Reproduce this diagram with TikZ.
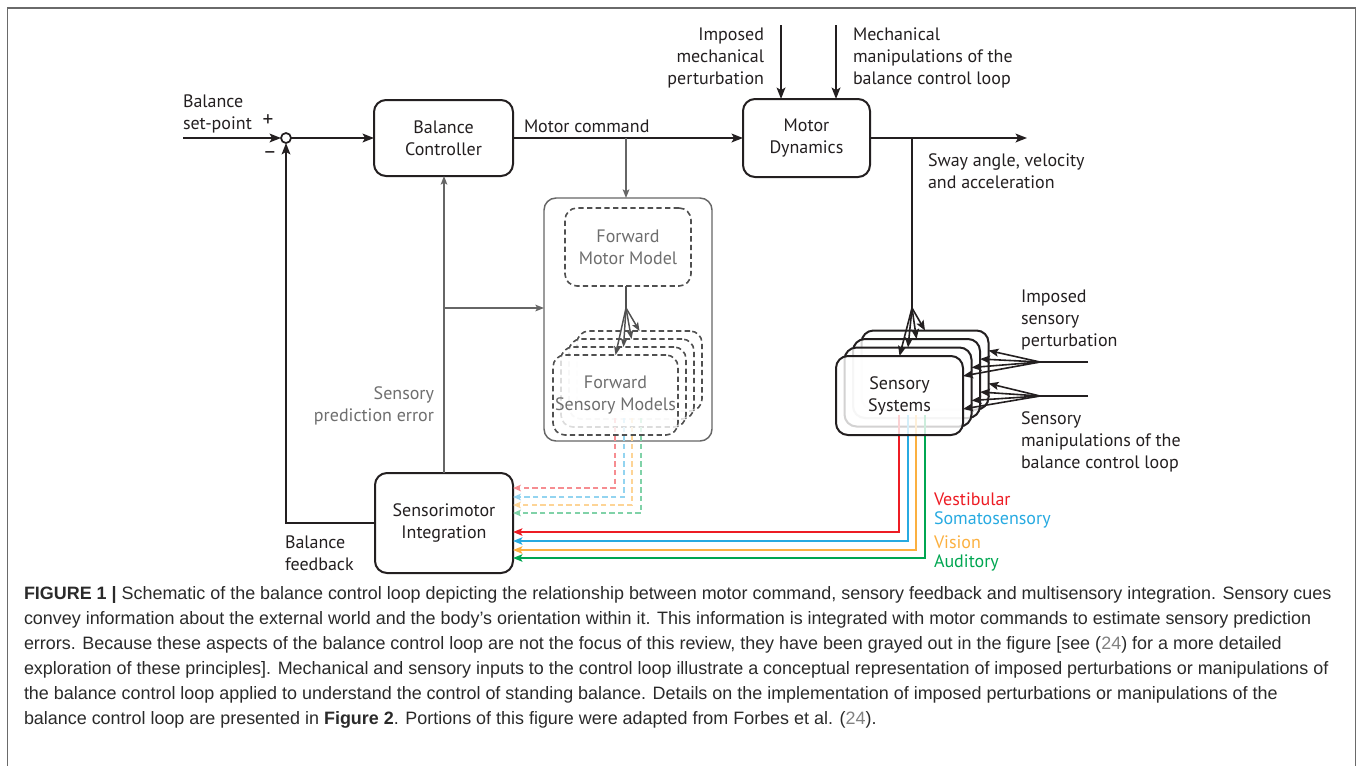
\documentclass[tikz,border=0pt]{standalone}
\usepackage{fontspec}
\setmainfont{PT Sans}
\newfontfamily\capfont{Liberation Sans}
\usetikzlibrary{arrows.meta,calc}
\definecolor{vest}{HTML}{ED1C24}
\definecolor{soma}{HTML}{27AAE1}
\definecolor{visn}{HTML}{FBB040}
\definecolor{audi}{HTML}{00A651}
\definecolor{gline}{HTML}{666666}
\definecolor{gtext}{HTML}{6E6E6E}
\definecolor{dgray}{HTML}{505050}
\definecolor{framec}{HTML}{6A6A6A}
\definecolor{capgray}{HTML}{808080}
\definecolor{ink}{HTML}{231F20}
\definecolor{captext}{HTML}{2A2A2A}
\begin{document}
\begin{tikzpicture}[x=0.75pt,y=-0.75pt,
  every node/.style={font=\fontsize{13.5pt}{16.5pt}\selectfont, inner sep=0pt, outer sep=0pt, text=ink},
  blk/.style 2 args={draw=ink, line width=1.5pt, rounded corners=9pt, align=center,
    minimum width=#1*0.75pt, minimum height=#2*0.75pt},
  stackbox/.style={draw=ink, line width=1.5pt, rounded corners=9pt, fill=white, fill opacity=0.8, text opacity=1,
    minimum width=127*0.75pt, minimum height=79*0.75pt, align=center},
  dashbox/.style={draw=dgray, line width=1.2pt, dash pattern=on 4pt off 2.5pt, rounded corners=9pt, fill=white, fill opacity=0.8, text opacity=1,
    minimum width=125*0.75pt, minimum height=80*0.75pt, align=center, text=gtext},
  arr/.style={draw=ink, line width=1.5pt, -{Stealth[length=8.5pt,width=6.5pt,inset=1.8pt]}},
  fan/.style={draw=ink, line width=1.2pt, -{Stealth[length=7.5pt,width=6pt,inset=1.5pt]}},
  garr/.style={draw=gline, line width=1.1pt, -{Stealth[length=6.5pt,width=5pt,inset=1.5pt]}},
  gfan/.style={draw=dgray, line width=1.1pt, -{Stealth[length=6.5pt,width=5pt,inset=1.5pt]}},
  carr/.style={draw=#1, line width=1.5pt, -{Stealth[length=7pt,width=5.5pt,inset=1.5pt]}},
  darr/.style={draw=#1, line width=1.1pt, dash pattern=on 4pt off 2.5pt, -{Stealth[length=6pt,width=5pt,inset=1.5pt]}},
  signlabel/.style={font=\fontsize{16pt}{18pt}\selectfont},
  capline/.style={anchor=base west, font=\capfont\fontsize{13.45pt}{18.75pt}\selectfont, text=captext}
]
\useasboundingbox (0,0) rectangle (1358,765);
% frame
\draw[framec, line width=1.2pt] (7.5,770) -- (7.5,8) -- (1355.5,8) -- (1355.5,770);

% main blocks
\node[blk={139}{76}] (bc) at (443.5,138) {Balance\\Controller};
\node[blk={127}{78}] (md) at (806.5,138) {Motor\\Dynamics};
\node[blk={138}{100}] (si) at (444,523) {Sensorimotor\\Integration};
\node[draw=ink, circle, line width=1.3pt, minimum size=10*0.75pt, fill=white] (sum) at (286,138) {};

% forward models container
\node[draw=gline, line width=1.1pt, rounded corners=9pt, minimum width=168*0.75pt, minimum height=243*0.75pt] (fbox) at (628,319.5) {};
\node[dashbox, minimum width=126*0.75pt, minimum height=78*0.75pt] (fmm) at (628,247) {Forward\\Motor Model};

% forward sensory models stack
\node[dashbox] (fsm3) at (639.5,371) {};
\node[dashbox] (fsm2) at (631.5,379) {};
\node[dashbox] (fsm1) at (623.5,387) {};
\coordinate (ds1) at (615,418);
\coordinate (ds2) at (624,418);
\coordinate (ds3) at (632,418);
\coordinate (ds4) at (641,418);
\coordinate (de1) at (615,488);
\coordinate (de2) at (624,497);
\coordinate (de3) at (632,505);
\coordinate (de4) at (641,513);
\draw[darr=vest!50!white] (ds1) -- (de1) -- (de1 -| si.east);
\draw[darr=soma!50!white] (ds2) -- (de2) -- (de2 -| si.east);
\draw[darr=visn!55!white] (ds3) -- (de3) -- (de3 -| si.east);
\draw[darr=audi!50!white] (ds4) -- (de4) -- (de4 -| si.east);
\node[dashbox] (fsm0) at (615.5,395) {Forward\\Sensory Models};

% sensory systems stack
\node[stackbox] (ss3) at (925,370) {};
\node[stackbox] (ss2) at (916.5,378.5) {};
\node[stackbox] (ss1) at (908,387) {};
\coordinate (cs1) at (899,415);
\coordinate (cs2) at (908,415);
\coordinate (cs3) at (916,415);
\coordinate (cs4) at (925,415);
\coordinate (ce1) at (899,532);
\coordinate (ce2) at (908,541);
\coordinate (ce3) at (916,550);
\coordinate (ce4) at (925,558);
\draw[carr=vest] (cs1) -- (ce1) -- (ce1 -| si.east);
\draw[carr=soma] (cs2) -- (ce2) -- (ce2 -| si.east);
\draw[carr=visn] (cs3) -- (ce3) -- (ce3 -| si.east);
\draw[carr=audi] (cs4) -- (ce4) -- (ce4 -| si.east);
\node[stackbox] (ss0) at (899.5,395.5) {Sensory\\Systems};

% main loop connectors
\coordinate (in) at (183,138);
\draw[arr] (in) -- (sum.west);
\draw[arr] (sum.east) -- (bc.west);
\draw[arr] (bc.east) -- (md.west);
\coordinate (out) at (1027,138);
\draw[arr] (md.east) -- (out);
\draw[arr] (si.west) -| (sum.south);

% mechanical inputs
\coordinate (m1) at (781,25);
\coordinate (m2) at (836,25);
\draw[arr] (m1) -- (m1 |- md.north);
\draw[arr] (m2) -- (m2 |- md.north);

% sway branch to sensory systems
\coordinate (sw) at (912,138);
\coordinate (sj) at (912,308);
\draw[draw=ink, line width=1.5pt] (sw) -- (sj);
\draw[fan] (sj) -- (ss0.north);
\draw[fan] (sj) -- (ss1.north);
\draw[fan] (sj) -- (ss2.north);
\draw[fan] (sj) -- (ss3.north);

% sensory inputs
\coordinate (p1) at (1088,362);
\coordinate (p1j) at (1040,362);
\coordinate (p2) at (1088,396);
\coordinate (p2j) at (1040,396);
\draw[draw=ink, line width=1.5pt] (p1) -- (p1j);
\draw[draw=ink, line width=1.5pt] (p2) -- (p2j);
\foreach \k in {0,1,2,3}{
  \draw[fan] (p1j) -- ($(ss\k.north east)+(0,20)$);
  \draw[fan] (p2j) -- ($(ss\k.north east)+(0,53)$);
}

% gray forward model connectors
\coordinate (mc) at (626,138);
\draw[garr] (mc) -- (mc |- fbox.north);
\draw[garr] (si.north) -- (si.north |- bc.south);
\coordinate (br) at (444,308);
\draw[garr] (br) -- (br -| fbox.west);
\coordinate (fj) at (626,308);
\draw[draw=dgray, line width=1.1pt] (fmm.south -| fj) -- (fj);
\draw[gfan] (fj) -- (fsm0.north);
\draw[gfan] (fj) -- (fsm1.north);
\draw[gfan] (fj) -- (fsm2.north);
\draw[gfan] (fj) -- (fsm3.north);

% labels
\node[anchor=west, align=left] (lbsp) at (183,114) {Balance\\set-point};
\node[signlabel] (lplus) at (268,121) {+};
\node[signlabel] (lminus) at (270,155) {–};
\node[anchor=west] (lmc) at (524,126) {Motor command};
\node[anchor=east, align=right] (limp) at (764,58) {Imposed\\mechanical\\perturbation};
\node[anchor=west, align=left] (lmech) at (853,58) {Mechanical\\manipulations of the\\balance control loop};
\node[anchor=west, align=left] (lsway) at (928,171) {Sway angle, velocity\\and acceleration};
\node[anchor=east, align=right, text=gtext] (lspe) at (434,406) {Sensory\\prediction error};
\node[anchor=west, align=left] (lbf) at (285,553) {Balance\\feedback};
\node[anchor=west, align=left] (lisp) at (1021,320) {Imposed\\sensory\\perturbation};
\node[anchor=west, align=left] (lsm) at (1021,442) {Sensory\\manipulations of the\\balance control loop};
\node[anchor=west, text=vest] (lv) at (934,499) {Vestibular};
\node[anchor=west, text=soma] (ls) at (934,520) {Somatosensory};
\node[anchor=west, text=visn] (lvi) at (934,542) {Vision};
\node[anchor=west, text=audi] (la) at (934,563) {Auditory};

% caption
\node[capline] (c1) at (24,599) {\textbf{FIGURE 1 |} Schematic of the balance control loop depicting the relationship between motor command, sensory feedback and multisensory integration. Sensory cues};
\node[capline] (c2) at (24,624) {convey information about the external world and the body’s orientation within it. This information is integrated with motor commands to estimate sensory prediction};
\node[capline] (c3) at (24,649) {errors. Because these aspects of the balance control loop are not the focus of this review, they have been grayed out in the figure [see ({\color{capgray}24}) for a more detailed};
\node[capline] (c4) at (24,674) {exploration of these principles]. Mechanical and sensory inputs to the control loop illustrate a conceptual representation of imposed perturbations or manipulations of};
\node[capline] (c5) at (24,699) {the balance control loop applied to understand the control of standing balance. Details on the implementation of imposed perturbations or manipulations of the};
\node[capline] (c6) at (24,724) {balance control loop are presented in \textbf{Figure 2}. Portions of this figure were adapted from Forbes et al. ({\color{capgray}24}).};
\end{tikzpicture}
\end{document}
